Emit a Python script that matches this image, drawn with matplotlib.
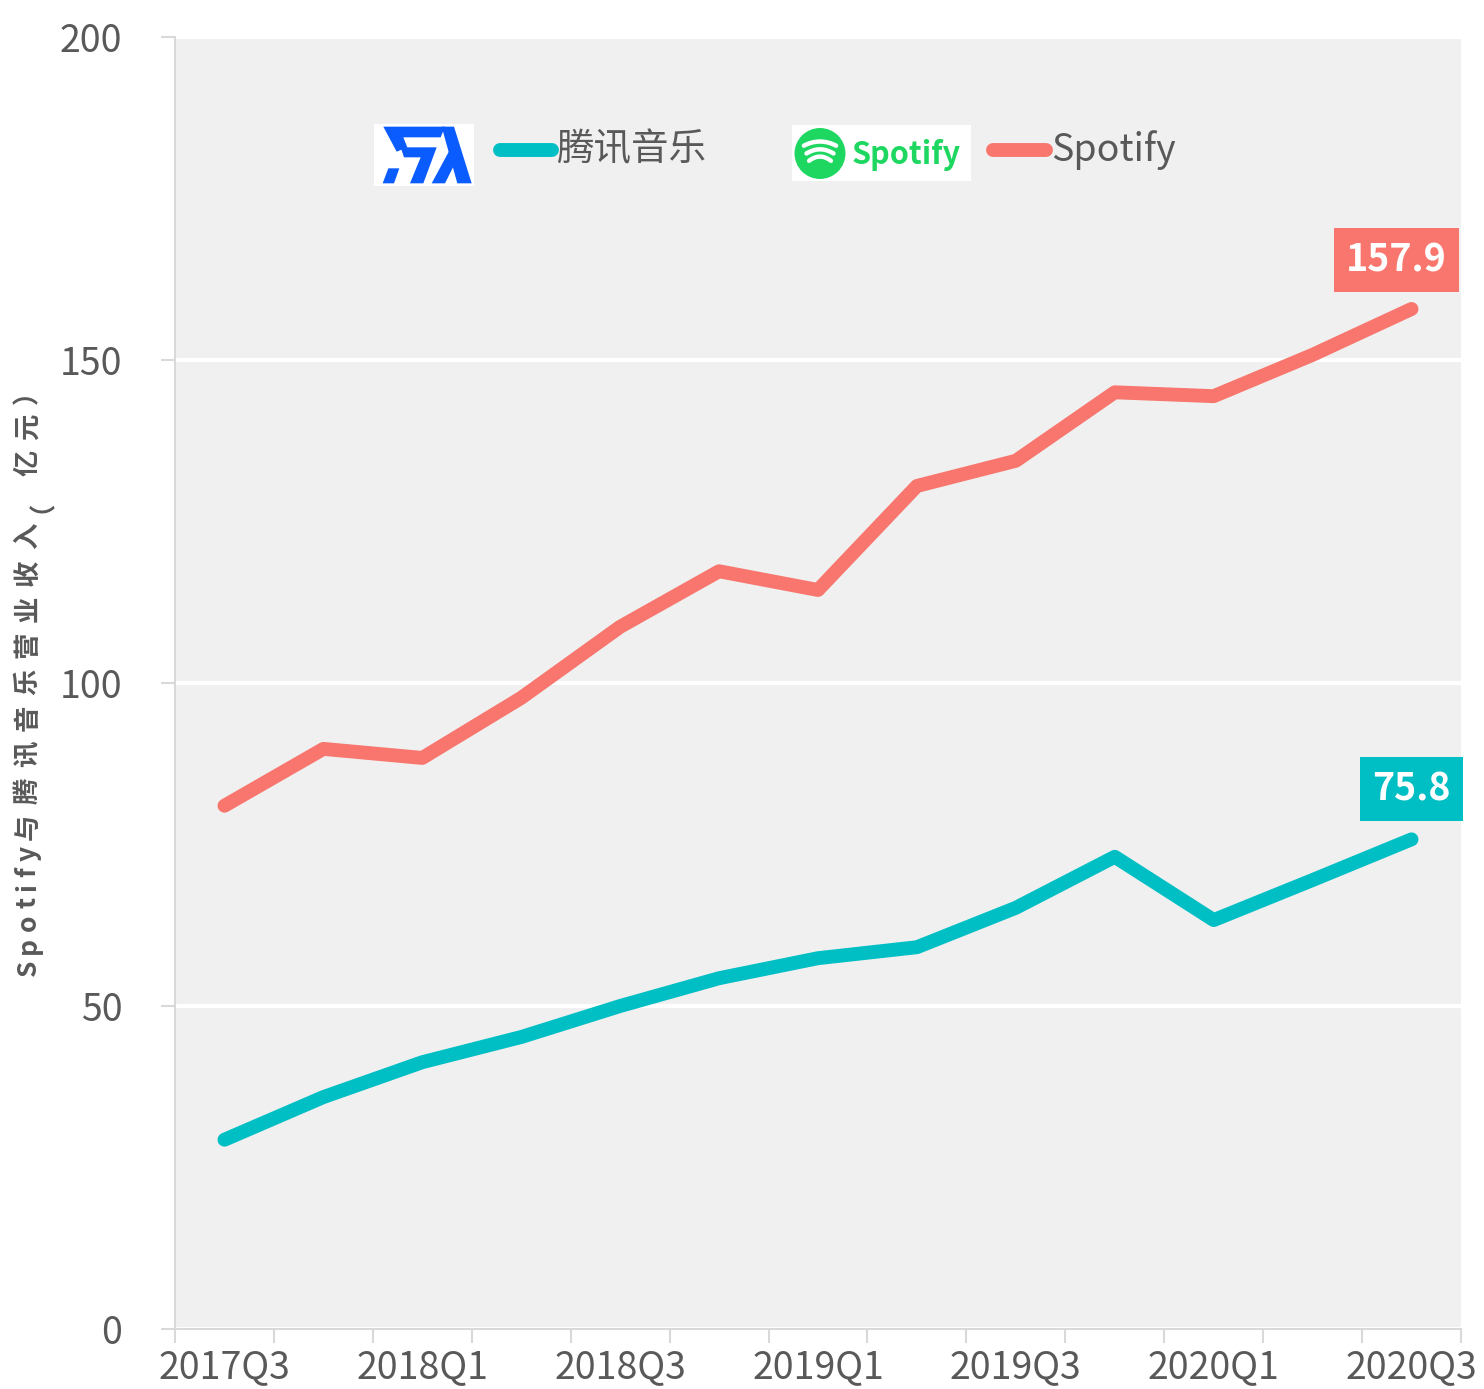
import numpy as np
import matplotlib
matplotlib.use("Agg")
import matplotlib.pyplot as plt
from matplotlib.lines import Line2D
from matplotlib.patches import Rectangle, Polygon, Circle

plt.rcParams['font.family'] = ['Noto Sans CJK SC', 'DejaVu Sans']

quarters = ["2017Q3", "2017Q4", "2018Q1", "2018Q2", "2018Q3", "2018Q4", "2019Q1",
            "2019Q2", "2019Q3", "2019Q4", "2020Q1", "2020Q2", "2020Q3"]
spotify = [81.0, 89.8, 88.4, 97.7, 108.7, 117.3, 114.4, 130.5, 134.4, 145.0, 144.4, 150.8, 157.9]
tme = [29.3, 35.9, 41.3, 45.2, 50.0, 54.3, 57.4, 59.1, 65.2, 73.1, 63.3, 69.5, 75.8]
yticks = [0, 50, 100, 150, 200]

TEAL = "#00BFC4"
RED = "#F8766D"
GRID_BG = "#F0F0F0"
AXIS_GRAY = "#D9D9D9"
TXT = "#595959"

W, H = 1484, 1389
fig = plt.figure(figsize=(W / 100, H / 100), dpi=100)


def fx(px):
    return px / W


def fy(py):
    return 1 - py / H


ax = fig.add_axes([fx(175), fy(1329), fx(1461) - fx(175), fy(37) - fy(1329)])
ax.set_facecolor(GRID_BG)

x = np.arange(len(quarters))
ax.plot(x, spotify, color=RED, lw=10, solid_capstyle="round", solid_joinstyle="round", zorder=3)
ax.plot(x, tme, color=TEAL, lw=10, solid_capstyle="round", solid_joinstyle="round", zorder=3)

ax.set_xlim(-0.5, len(quarters) - 0.5)
ax.set_ylim(0, 200)
ax.set_yticks(yticks)
ax.set_yticklabels([str(v) for v in yticks], fontsize=27, color=TXT)
ax.set_xticks(x[::2])
ax.set_xticklabels(quarters[::2], fontsize=27, color=TXT)
ax.set_xticks(np.arange(-0.5, len(quarters)), minor=True)
ax.tick_params(axis="x", which="major", length=0, pad=14)
ax.tick_params(axis="x", which="minor", length=10, width=1.5, color=AXIS_GRAY)
ax.tick_params(axis="y", length=10, width=1.5, color=AXIS_GRAY, pad=28)

ax.grid(axis="y", color="white", lw=3)
ax.set_axisbelow(True)
for s in ["top", "right"]:
    ax.spines[s].set_visible(False)
for s in ["left", "bottom"]:
    ax.spines[s].set_color(AXIS_GRAY)
    ax.spines[s].set_linewidth(1.5)

# end-of-series value boxes
ax.annotate(f"{spotify[-1]:.1f}", (x[-1], spotify[-1]), xytext=(-11, 35),
            textcoords="offset points", ha="center", va="center",
            fontsize=27, fontweight="bold", color="white",
            bbox=dict(boxstyle="square,pad=0.33", fc=RED, ec="none"), zorder=5)
ax.annotate(f"{tme[-1]:.1f}", (x[-1], tme[-1]), xytext=(0, 36),
            textcoords="offset points", ha="center", va="center",
            fontsize=27, fontweight="bold", color="white",
            bbox=dict(boxstyle="square,pad=0.33", fc=TEAL, ec="none"), zorder=5)

# y label, drawn char by char to get the wide letter spacing
ylabel = "Spotify与腾讯音乐营业收入（亿元）"
renderer = fig.canvas.get_renderer()
ypos = 976
for ch in ylabel:
    t = fig.text(fx(28), fy(ypos), ch, rotation=90, ha="center", va="bottom",
                 fontsize=19, fontweight="bold", color=TXT)
    ext = t.get_window_extent(renderer)
    ypos -= ext.height + (10 if ord(ch) > 127 else 6)

# legend: logos + line swatches
lg_y = 150
fig.patches.append(Rectangle((fx(374), fy(186)), fx(474) - fx(374), fy(124) - fy(186),
                             transform=fig.transFigure, fc="white", ec="none"))


def logo_poly(pts, color):
    # pts in pixel coords of the figure
    fig.patches.append(Polygon([(fx(a), fy(b)) for a, b in pts], closed=True,
                               transform=fig.transFigure, fc=color, ec="none"))


BLUE = "#0A5CFF"
ox, oy = 370, 120
s = 1 / 3
logo_poly([(ox + 40 * s, oy + 20 * s), (ox + 225 * s, oy + 20 * s), (ox + 212 * s, oy + 52 * s),
           (ox + 100 * s, oy + 52 * s), (ox + 112 * s, oy + 82 * s), (ox + 80 * s, oy + 95 * s)], BLUE)
logo_poly([(ox + 92 * s, oy + 82 * s), (ox + 200 * s, oy + 82 * s), (ox + 160 * s, oy + 190 * s),
           (ox + 120 * s, oy + 190 * s), (ox + 152 * s, oy + 112 * s), (ox + 102 * s, oy + 112 * s)], BLUE)
logo_poly([(ox + 55 * s, oy + 145 * s), (ox + 88 * s, oy + 145 * s), (ox + 72 * s, oy + 190 * s),
           (ox + 38 * s, oy + 190 * s)], BLUE)
logo_poly([(ox + 215 * s, oy + 20 * s), (ox + 252 * s, oy + 20 * s), (ox + 305 * s, oy + 190 * s),
           (ox + 262 * s, oy + 190 * s)], BLUE)
logo_poly([(ox + 238 * s, oy + 92 * s), (ox + 255 * s, oy + 130 * s), (ox + 225 * s, oy + 190 * s),
           (ox + 185 * s, oy + 190 * s)], BLUE)

fig.lines.append(Line2D([fx(500), fx(552)], [fy(lg_y), fy(lg_y)], transform=fig.transFigure,
                        color=TEAL, lw=10, solid_capstyle="round"))
fig.text(fx(556), fy(lg_y), "腾讯音乐", fontsize=27, color=TXT, ha="left", va="center")

GREEN = "#1ED760"
fig.patches.append(Rectangle((fx(792), fy(181)), fx(971) - fx(792), fy(125) - fy(181),
                             transform=fig.transFigure, fc="white", ec="none"))
logo_ax = fig.add_axes([fx(794), fy(180), fx(846) - fx(794), fy(127) - fy(180)], zorder=5)
logo_ax.set_xlim(-1, 1)
logo_ax.set_ylim(-1, 1)
logo_ax.set_aspect("equal")
logo_ax.axis("off")
logo_ax.add_patch(Circle((0, 0), 0.98, fc=GREEN, ec="none"))
for yy, w in [(0.30, 0.62), (0.0, 0.52), (-0.28, 0.42)]:
    xs = np.linspace(-w, w, 30)
    logo_ax.plot(xs, yy + 0.16 * (1 - (xs / w) ** 2), color="white", lw=3.2,
                 solid_capstyle="round")
fig.text(fx(852), fy(155), "Spotify", fontsize=22, fontweight="bold", color=GREEN,
         ha="left", va="center")

fig.lines.append(Line2D([fx(993), fx(1046)], [fy(lg_y), fy(lg_y)], transform=fig.transFigure,
                        color=RED, lw=10, solid_capstyle="round"))
fig.text(fx(1051), fy(lg_y), "Spotify", fontsize=27, color=TXT, ha="left", va="center")

fig.savefig("out.png", dpi=100)
